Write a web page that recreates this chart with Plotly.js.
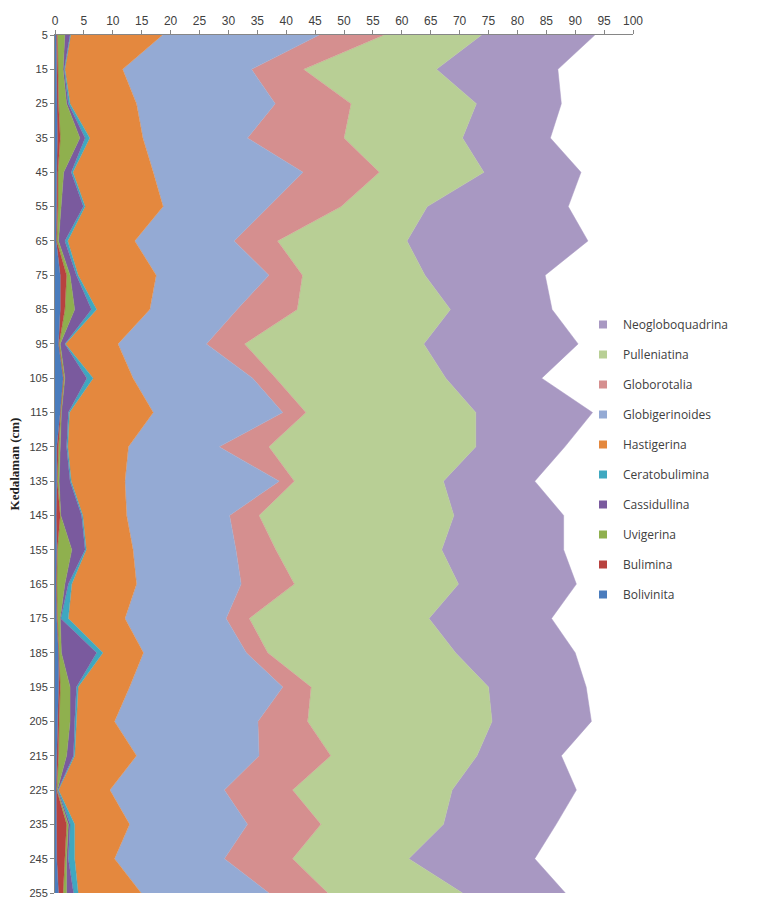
<!DOCTYPE html>
<html>
<head>
<meta charset="utf-8">
<script src="https://cdn.plot.ly/plotly-3.0.1.min.js"></script>
<style>html,body{margin:0;padding:0;background:#fff;}#chart{width:760px;height:899px;}</style>
</head>
<body>
<div id="chart"></div>
<script>
var depths = [5,15,25,35,45,55,65,75,85,95,105,115,125,135,145,155,165,175,185,195,205,215,225,235,245,255];

var bolivinita      = [0.2,0.3,0.3,0.4,0.3,0.3,0.2,0.9,0.9,0.6,1.4,0.9,0.3,0.3,0.2,0.3,0.2,0.3,0.6,0.6,0.4,0.3,0.2,0.3,0.3,0.6];
var bulimina        = [0.2,0.2,0.3,0.5,0.2,0.2,0.1,1.1,0.8,0.1,0.1,0.1,0.3,0.1,0.7,0.1,0.1,0.1,0.1,0.3,0.3,0.3,0.1,1.7,1.4,0.8];
var uvigerina       = [1.3,0.9,1.4,3.4,1.0,0.6,0.3,0.6,1.7,0.2,0.2,0.1,0.3,0.3,0.1,2.5,1.4,0.5,0.4,1.7,1.9,1.4,0.1,0.3,0.3,0.6];
var cassidullina    = [0.9,0.2,0.3,0.9,1.3,3.8,1.1,1.1,2.9,0.8,3.8,1.2,1.1,1.9,3.6,2.3,0.6,0.1,6.1,1.1,0.8,1.2,0.1,0.3,0.3,1.2];
var ceratobulimina  = [0.1,0.1,0.3,0.8,0.3,0.3,0.5,0.3,0.9,0.1,1.1,0.2,0.2,0.2,0.2,0.2,0.6,1.3,1.1,0.3,0.3,0.2,0.1,0.8,1.1,0.8];
var hastigerina     = [15.9,10.0,11.5,9.2,13.9,13.5,11.6,13.5,9.2,9.1,6.9,14.5,10.5,9.3,7.6,8.1,11.2,9.8,7.0,8.9,6.6,10.7,8.9,9.5,6.9,10.9];
var globigerinoides = [27.1,22.3,24.0,18.1,25.9,18.2,17.2,19.5,15.1,15.3,20.7,22.4,15.7,26.7,17.8,17.8,18.1,17.5,17.8,26.5,24.8,21.2,19.8,20.4,19.0,22.1];
var globorotalia    = [11.2,9.0,13.1,16.7,13.2,12.6,7.5,5.8,10.4,6.6,4.0,4.0,8.6,2.6,5.1,6.9,9.2,4.0,3.7,4.9,8.6,12.4,11.8,12.7,11.8,10.2];
var pulleniatina    = [16.9,23.0,21.7,20.5,18.1,14.9,22.4,21.2,26.5,31.0,29.4,29.4,35.8,25.8,33.7,28.7,28.4,31.1,32.5,30.7,31.9,25.3,27.6,21.2,20.1,23.3];
var neogloboquadrina= [19.6,21.0,14.7,15.2,16.8,24.4,31.3,20.8,17.6,26.7,16.6,20.2,15.4,15.8,19.0,21.1,20.4,21.2,20.7,16.9,17.2,14.6,21.5,19.5,21.8,17.8];

var seriesNames = ["Bolivinita","Bulimina","Uvigerina","Cassidullina","Ceratobulimina","Hastigerina","Globigerinoides","Globorotalia","Pulleniatina","Neogloboquadrina"];
var seriesData = [bolivinita,bulimina,uvigerina,cassidullina,ceratobulimina,hastigerina,globigerinoides,globorotalia,pulleniatina,neogloboquadrina];
var seriesColors = ["#4A7CBD","#B8423F","#8FB04E","#7A5A9E","#3FA8C0","#E4883E","#94AAD4","#D58F8F","#B8CF95","#A898C2"];

var xTicks = [0,5,10,15,20,25,30,35,40,45,50,55,60,65,70,75,80,85,90,95,100];

var traces = [];
seriesNames.forEach(function(name, i){
  traces.push({
    type: 'scatter',
    mode: 'lines',
    name: name,
    x: seriesData[i],
    y: depths,
    orientation: 'h',
    stackgroup: 'one',
    showlegend: false,
    line: {width: 0.5, color: seriesColors[i]},
    fillcolor: seriesColors[i],
    hoverinfo: 'skip'
  });
});
// legend entries (square swatches, like the original)
seriesNames.forEach(function(name, i){
  traces.push({
    type: 'scatter',
    mode: 'markers',
    name: name,
    x: [null],
    y: [null],
    legendgroup: name,
    legendrank: 100 - i,
    showlegend: true,
    marker: {symbol: 'square', size: 8, color: seriesColors[i]},
    hoverinfo: 'skip'
  });
});

var layout = {
  width: 760, height: 899,
  margin: {l: 55, r: 127, t: 35, b: 6, autoexpand: false},
  paper_bgcolor: '#ffffff',
  plot_bgcolor: '#ffffff',
  showlegend: true,
  legend: {
    xref: 'container', yref: 'container',
    x: 583/760, xanchor: 'left',
    y: 1 - 310/899, yanchor: 'top',
    traceorder: 'grouped',
    tracegroupgap: 11,
    itemwidth: 30,
    font: {family: 'Open Sans, Liberation Sans, Arial, sans-serif', size: 12, color: '#404040'},
    bgcolor: 'rgba(0,0,0,0)'
  },
  xaxis: {
    side: 'top',
    range: [0, 100],
    tickvals: xTicks,
    ticktext: xTicks.map(String),
    ticks: 'outside', ticklen: 4, tickcolor: '#868686',
    showline: true, linecolor: '#868686', linewidth: 1,
    showgrid: false, zeroline: false,
    tickfont: {family: 'Liberation Sans Narrow, Liberation Sans, Arial, sans-serif', size: 12, color: '#404040'}
  },
  yaxis: {
    range: [255, 5],
    tickvals: depths,
    ticktext: depths.map(String),
    ticks: 'outside', ticklen: 4, tickcolor: '#868686',
    showline: true, linecolor: '#868686', linewidth: 1,
    showgrid: false, zeroline: false,
    tickfont: {family: 'Liberation Sans Narrow, Liberation Sans, Arial, sans-serif', size: 11, color: '#404040'},
    title: {text: '<b>Kedalaman (cm)</b>', standoff: 6,
            font: {family: 'Liberation Serif, Times New Roman, serif', size: 13, color: '#222222'}}
  }
};

Plotly.newPlot('chart', traces, layout, {displayModeBar: false, staticPlot: true});
</script>
</body>
</html>
